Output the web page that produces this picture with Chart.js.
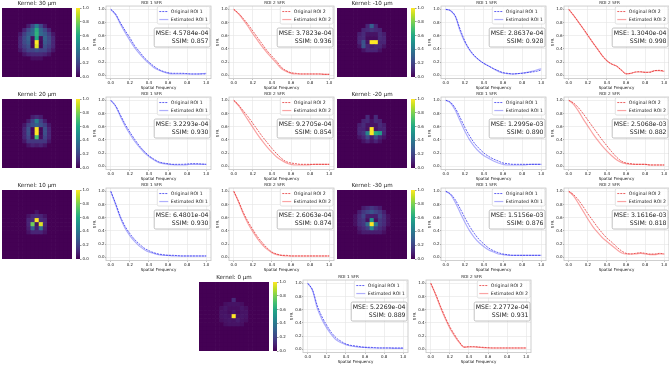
<!DOCTYPE html>
<html>
<head>
<meta charset="utf-8">
<script src="https://cdn.jsdelivr.net/npm/chart.js@4.4.1/dist/chart.umd.min.js"></script>
<style>
  html, body { margin: 0; padding: 0; background: #fff; }
  #fig { position: relative; width: 669px; height: 365px; overflow: hidden; background: #fff; }
  #fig canvas { position: absolute; }
</style>
</head>
<body>
<div id="fig"></div>
<script>
// Data
const freq = [0, 0.05, 0.1, 0.15, 0.2, 0.25, 0.3, 0.35, 0.4, 0.45, 0.5, 0.55, 0.6, 0.65, 0.7, 0.75, 0.8, 0.85, 0.9, 0.95, 1.0];
const xTicks = [0, 0.2, 0.4, 0.6, 0.8, 1.0];
const yTicks = [0, 0.2, 0.4, 0.6, 0.8, 1.0];
const cbTicks = [0, 0.2, 0.4, 0.6, 0.8, 1.0];

const k30Roi1Orig = [1.00, 0.93, 0.80, 0.68, 0.57, 0.45, 0.36, 0.27, 0.20, 0.14, 0.09, 0.06, 0.04, 0.03, 0.03, 0.03, 0.025, 0.02, 0.02, 0.02, 0.02];
const k30Roi1Est = [1.00, 0.92, 0.78, 0.65, 0.53, 0.42, 0.33, 0.25, 0.18, 0.12, 0.08, 0.05, 0.03, 0.02, 0.02, 0.02, 0.02, 0.02, 0.02, 0.025, 0.03];
const k30Roi2Orig = [1.00, 0.94, 0.86, 0.77, 0.67, 0.57, 0.47, 0.37, 0.29, 0.21, 0.12, 0.07, 0.04, 0.03, 0.02, 0.02, 0.02, 0.02, 0.02, 0.015, 0.015];
const k30Roi2Est = [1.00, 0.93, 0.84, 0.74, 0.63, 0.53, 0.43, 0.34, 0.26, 0.18, 0.10, 0.06, 0.03, 0.02, 0.02, 0.02, 0.02, 0.02, 0.02, 0.015, 0.015];

const km10Roi1Orig = [1.00, 0.98, 0.90, 0.70, 0.52, 0.39, 0.30, 0.23, 0.18, 0.14, 0.10, 0.07, 0.04, 0.03, 0.02, 0.025, 0.03, 0.04, 0.05, 0.06, 0.08];
const km10Roi1Est = [1.00, 0.98, 0.89, 0.67, 0.50, 0.38, 0.29, 0.23, 0.18, 0.14, 0.10, 0.06, 0.035, 0.025, 0.02, 0.025, 0.035, 0.045, 0.06, 0.08, 0.10];
const km10Roi2Orig = [1.00, 0.91, 0.81, 0.71, 0.61, 0.50, 0.40, 0.30, 0.22, 0.17, 0.14, 0.08, 0.02, 0.03, 0.05, 0.055, 0.045, 0.045, 0.07, 0.075, 0.065];
const km10Roi2Est = [1.00, 0.91, 0.81, 0.71, 0.60, 0.50, 0.40, 0.30, 0.22, 0.17, 0.14, 0.08, 0.025, 0.03, 0.05, 0.05, 0.045, 0.05, 0.07, 0.07, 0.06];

const k20Roi1Orig = [1.00, 0.92, 0.78, 0.64, 0.52, 0.41, 0.31, 0.23, 0.16, 0.11, 0.07, 0.05, 0.04, 0.03, 0.03, 0.03, 0.035, 0.04, 0.04, 0.035, 0.03];
const k20Roi1Est = [1.00, 0.91, 0.76, 0.61, 0.49, 0.38, 0.29, 0.21, 0.15, 0.10, 0.06, 0.04, 0.03, 0.025, 0.02, 0.02, 0.025, 0.03, 0.03, 0.03, 0.03];
const k20Roi2Orig = [1.00, 0.93, 0.84, 0.75, 0.65, 0.55, 0.45, 0.36, 0.27, 0.19, 0.12, 0.07, 0.05, 0.04, 0.03, 0.03, 0.03, 0.03, 0.03, 0.03, 0.03];
const k20Roi2Est = [1.00, 0.92, 0.81, 0.70, 0.59, 0.48, 0.38, 0.29, 0.21, 0.14, 0.09, 0.05, 0.03, 0.02, 0.02, 0.02, 0.025, 0.03, 0.03, 0.03, 0.03];

const km20Roi1Orig = [1.00, 0.97, 0.88, 0.74, 0.59, 0.46, 0.35, 0.27, 0.20, 0.15, 0.11, 0.08, 0.05, 0.04, 0.03, 0.03, 0.03, 0.03, 0.03, 0.03, 0.03];
const km20Roi1Est = [1.00, 0.96, 0.85, 0.69, 0.53, 0.40, 0.30, 0.22, 0.16, 0.12, 0.08, 0.05, 0.03, 0.02, 0.02, 0.02, 0.02, 0.025, 0.03, 0.03, 0.03];
const km20Roi2Orig = [1.00, 0.96, 0.89, 0.80, 0.70, 0.60, 0.50, 0.40, 0.31, 0.22, 0.14, 0.08, 0.05, 0.04, 0.03, 0.03, 0.03, 0.02, 0.02, 0.02, 0.02];
const km20Roi2Est = [1.00, 0.94, 0.84, 0.72, 0.61, 0.50, 0.40, 0.31, 0.23, 0.16, 0.10, 0.06, 0.04, 0.03, 0.03, 0.03, 0.03, 0.02, 0.02, 0.02, 0.02];

const k10Roi1Orig = [1.00, 0.82, 0.62, 0.47, 0.36, 0.27, 0.20, 0.14, 0.10, 0.07, 0.05, 0.04, 0.03, 0.03, 0.025, 0.02, 0.02, 0.02, 0.02, 0.02, 0.02];
const k10Roi1Est = [1.00, 0.80, 0.60, 0.44, 0.33, 0.24, 0.17, 0.12, 0.08, 0.06, 0.04, 0.03, 0.03, 0.02, 0.02, 0.02, 0.02, 0.02, 0.02, 0.02, 0.02];
const k10Roi2Orig = [1.00, 0.85, 0.68, 0.54, 0.42, 0.31, 0.22, 0.14, 0.08, 0.05, 0.03, 0.03, 0.02, 0.02, 0.02, 0.02, 0.02, 0.02, 0.02, 0.02, 0.02];
const k10Roi2Est = [1.00, 0.84, 0.66, 0.51, 0.39, 0.28, 0.19, 0.12, 0.07, 0.04, 0.03, 0.02, 0.02, 0.02, 0.02, 0.02, 0.02, 0.02, 0.02, 0.02, 0.02];

const km30Roi1Orig = [1.00, 0.96, 0.87, 0.74, 0.60, 0.47, 0.36, 0.27, 0.20, 0.14, 0.10, 0.07, 0.05, 0.04, 0.03, 0.03, 0.03, 0.03, 0.03, 0.03, 0.03];
const km30Roi1Est = [1.00, 0.95, 0.83, 0.68, 0.53, 0.40, 0.30, 0.22, 0.16, 0.11, 0.08, 0.05, 0.04, 0.03, 0.03, 0.03, 0.03, 0.03, 0.03, 0.03, 0.03];
const km30Roi2Orig = [1.00, 0.95, 0.87, 0.77, 0.66, 0.56, 0.46, 0.37, 0.29, 0.23, 0.16, 0.10, 0.06, 0.05, 0.06, 0.07, 0.06, 0.05, 0.05, 0.06, 0.05];
const km30Roi2Est = [1.00, 0.93, 0.82, 0.70, 0.58, 0.47, 0.38, 0.30, 0.24, 0.18, 0.12, 0.07, 0.05, 0.05, 0.05, 0.06, 0.05, 0.04, 0.04, 0.05, 0.05];

const k0Roi1Orig = [1.00, 0.90, 0.66, 0.49, 0.36, 0.25, 0.17, 0.12, 0.08, 0.06, 0.05, 0.04, 0.03, 0.03, 0.025, 0.02, 0.02, 0.02, 0.02, 0.02, 0.02];
const k0Roi1Est = [1.00, 0.89, 0.62, 0.45, 0.32, 0.22, 0.14, 0.10, 0.07, 0.05, 0.04, 0.03, 0.03, 0.02, 0.02, 0.02, 0.02, 0.02, 0.015, 0.015, 0.015];
const k0Roi2Orig = [1.00, 0.84, 0.66, 0.49, 0.34, 0.22, 0.11, 0.035, 0.04, 0.04, 0.035, 0.03, 0.025, 0.02, 0.02, 0.02, 0.02, 0.02, 0.02, 0.02, 0.02];
const k0Roi2Est = [1.00, 0.83, 0.64, 0.47, 0.32, 0.20, 0.10, 0.03, 0.035, 0.035, 0.03, 0.025, 0.02, 0.02, 0.02, 0.02, 0.02, 0.02, 0.02, 0.02, 0.02];

// MSE / SSIM per panel
const mseRoi1 = ['4.5784e-04', '2.8637e-04', '3.2293e-04', '1.2995e-03', '6.4801e-04', '1.5156e-03', '5.2269e-04'];
const ssimRoi1 = ['0.857', '0.928', '0.930', '0.890', '0.930', '0.876', '0.889'];
const mseRoi2 = ['3.7823e-04', '1.3040e-04', '9.2705e-04', '2.5068e-03', '2.6063e-04', '3.1616e-03', '2.2772e-04'];
const ssimRoi2 = ['0.936', '0.998', '0.854', '0.882', '0.874', '0.818', '0.931'];

// kernels: central 9x9 block of a 17x17 grid (rows/cols 4..12), the rest is 0
const kernel30 = [
  [0, 0, 0.08, 0.22, 0.42, 0.22, 0.08, 0, 0],
  [0, 0.10, 0.22, 0.32, 0.62, 0.32, 0.22, 0.10, 0],
  [0.06, 0.18, 0.28, 0.34, 0.64, 0.34, 0.28, 0.18, 0.06],
  [0.10, 0.22, 0.32, 0.04, 0.60, 0.04, 0.32, 0.22, 0.10],
  [0.10, 0.22, 0.28, 0.02, 1.00, 0.02, 0.28, 0.22, 0.10],
  [0.10, 0.18, 0.24, 0.02, 0.95, 0.02, 0.24, 0.18, 0.10],
  [0.06, 0.14, 0.20, 0.20, 0.24, 0.20, 0.20, 0.14, 0.06],
  [0, 0.06, 0.10, 0.12, 0.12, 0.12, 0.10, 0.06, 0],
  [0, 0, 0, 0.04, 0.04, 0.04, 0, 0, 0]
];
const kernel20 = [
  [0, 0, 0, 0.08, 0.12, 0.08, 0, 0, 0],
  [0, 0, 0.08, 0.20, 0.42, 0.20, 0.08, 0, 0],
  [0, 0.06, 0.18, 0.24, 0.30, 0.24, 0.18, 0.06, 0],
  [0, 0.10, 0.24, 0.02, 1.00, 0.02, 0.24, 0.10, 0],
  [0, 0.10, 0.24, 0.02, 1.00, 0.02, 0.24, 0.10, 0],
  [0, 0.10, 0.20, 0.04, 0.70, 0.04, 0.20, 0.10, 0],
  [0, 0.06, 0.16, 0.16, 0.16, 0.16, 0.16, 0.06, 0],
  [0, 0, 0.06, 0.10, 0.08, 0.10, 0.06, 0, 0],
  [0, 0, 0, 0, 0, 0, 0, 0, 0]
];
const kernel10 = [
  [0, 0, 0, 0, 0, 0, 0, 0, 0],
  [0, 0, 0, 0, 0.05, 0, 0, 0, 0],
  [0, 0, 0.05, 0.10, 0.12, 0.10, 0.05, 0, 0],
  [0, 0, 0.10, 0.12, 1.00, 0.12, 0.10, 0, 0],
  [0, 0, 0.10, 0.78, 0.05, 0.95, 0.10, 0, 0],
  [0, 0, 0.08, 0.30, 0.08, 0.35, 0.08, 0, 0],
  [0, 0, 0.05, 0.10, 0.10, 0.10, 0.05, 0, 0],
  [0, 0, 0, 0, 0, 0, 0, 0, 0],
  [0, 0, 0, 0, 0, 0, 0, 0, 0]
];
const kernelM10 = [
  [0, 0, 0, 0.10, 0.30, 0.10, 0, 0, 0],
  [0, 0, 0.10, 0.12, 0.15, 0.12, 0.10, 0, 0],
  [0, 0.08, 0.12, 0.05, 0.05, 0.05, 0.12, 0.08, 0],
  [0, 0.10, 0.12, 0.03, 0.03, 0.03, 0.12, 0.10, 0],
  [0, 0.10, 0.25, 0.05, 1.00, 1.00, 0.10, 0.10, 0],
  [0, 0.05, 0.25, 0.10, 0.08, 0.10, 0.10, 0.05, 0],
  [0, 0, 0.05, 0.10, 0.10, 0.10, 0.05, 0, 0],
  [0, 0, 0, 0, 0, 0, 0, 0, 0],
  [0, 0, 0, 0, 0, 0, 0, 0, 0]
];
const kernelM20 = [
  [0, 0, 0, 0.12, 0, 0.12, 0, 0, 0],
  [0, 0, 0.10, 0.12, 0.05, 0.12, 0.10, 0, 0],
  [0, 0.08, 0.12, 0.05, 0.05, 0.05, 0.12, 0.08, 0],
  [0, 0.10, 0.10, 0.05, 1.00, 0.05, 0.10, 0.10, 0],
  [0, 0.10, 0.15, 0.45, 1.00, 0.62, 0.55, 0.10, 0],
  [0, 0.05, 0.10, 0.22, 0.08, 0.22, 0.10, 0.05, 0],
  [0, 0, 0.05, 0.10, 0.05, 0.10, 0.05, 0, 0],
  [0, 0, 0, 0, 0, 0, 0, 0, 0],
  [0, 0, 0, 0, 0, 0, 0, 0, 0]
];
const kernelM30 = [
  [0, 0, 0.08, 0.12, 0.16, 0.12, 0.08, 0, 0],
  [0, 0.08, 0.16, 0.20, 0.26, 0.20, 0.16, 0.08, 0],
  [0.04, 0.12, 0.20, 0.08, 0.08, 0.08, 0.20, 0.12, 0.04],
  [0.04, 0.12, 0.16, 0.04, 0.50, 0.04, 0.16, 0.12, 0.04],
  [0.04, 0.12, 0.16, 0.35, 1.00, 0.40, 0.16, 0.12, 0.04],
  [0, 0.08, 0.12, 0.18, 0.45, 0.18, 0.12, 0.08, 0],
  [0, 0.04, 0.08, 0.08, 0.08, 0.08, 0.08, 0.04, 0],
  [0, 0, 0, 0, 0, 0, 0, 0, 0],
  [0, 0, 0, 0, 0, 0, 0, 0, 0]
];
const kernel0 = [
  [0, 0, 0, 0, 0.12, 0, 0, 0, 0],
  [0, 0, 0.04, 0.05, 0.05, 0.05, 0.04, 0, 0],
  [0, 0.04, 0.06, 0.04, 0.04, 0.04, 0.06, 0.04, 0],
  [0, 0.05, 0.05, 0.03, 0.06, 0.03, 0.05, 0.05, 0],
  [0, 0.05, 0.06, 0.05, 1.00, 0.05, 0.06, 0.05, 0],
  [0, 0.04, 0.05, 0.06, 0.05, 0.08, 0.05, 0.04, 0],
  [0, 0, 0.04, 0.05, 0.05, 0.05, 0.04, 0, 0],
  [0, 0, 0, 0, 0, 0, 0, 0, 0],
  [0, 0, 0, 0, 0, 0, 0, 0, 0]
];

const FONT = '"DejaVu Sans", sans-serif';
const TXT = '#222';
const GRID_N = 17;
const viridis = ['#440154', '#482475', '#414487', '#355f8d', '#2a788e', '#21918c', '#22a884', '#44bf70', '#7ad151', '#bddf26', '#fde725'];

const blue = { orig: 'rgba(20,20,235,0.75)', est: 'rgba(110,110,250,0.55)' };
const red = { orig: 'rgba(225,20,20,0.75)', est: 'rgba(245,90,90,0.55)' };

// block layout: each block = heatmap + colorbar + ROI1 + ROI2
const blocks = [
  { ox: 0, oy: 0, title: 'Kernel: 30 µm', kernel: kernel30, r1: [k30Roi1Orig, k30Roi1Est], r2: [k30Roi2Orig, k30Roi2Est], i: 0 },
  { ox: 335, oy: 0, title: 'Kernel: -10 µm', kernel: kernelM10, r1: [km10Roi1Orig, km10Roi1Est], r2: [km10Roi2Orig, km10Roi2Est], i: 1 },
  { ox: 0, oy: 91, title: 'Kernel: 20 µm', kernel: kernel20, r1: [k20Roi1Orig, k20Roi1Est], r2: [k20Roi2Orig, k20Roi2Est], i: 2 },
  { ox: 335, oy: 91, title: 'Kernel: -20 µm', kernel: kernelM20, r1: [km20Roi1Orig, km20Roi1Est], r2: [km20Roi2Orig, km20Roi2Est], i: 3 },
  { ox: 0, oy: 182, title: 'Kernel: 10 µm', kernel: kernel10, r1: [k10Roi1Orig, k10Roi1Est], r2: [k10Roi2Orig, k10Roi2Est], i: 4 },
  { ox: 335, oy: 182, title: 'Kernel: -30 µm', kernel: kernelM30, r1: [km30Roi1Orig, km30Roi1Est], r2: [km30Roi2Orig, km30Roi2Est], i: 5 },
  { ox: 197, oy: 274, title: 'Kernel: 0 µm', kernel: kernel0, r1: [k0Roi1Orig, k0Roi1Est], r2: [k0Roi2Orig, k0Roi2Est], i: 6 }
];

const fig = document.getElementById('fig');

function addCanvas(x, y, w, h) {
  const c = document.createElement('canvas');
  c.width = w;
  c.height = h;
  c.style.left = x + 'px';
  c.style.top = y + 'px';
  c.style.width = w + 'px';
  c.style.height = h + 'px';
  fig.appendChild(c);
  return c;
}

function hexRgb(h) {
  return [parseInt(h.slice(1, 3), 16), parseInt(h.slice(3, 5), 16), parseInt(h.slice(5, 7), 16)];
}

function cmap(v) {
  const t = Math.max(0, Math.min(1, v)) * 10;
  const i = Math.min(9, Math.floor(t));
  const f = t - i;
  const a = hexRgb(viridis[i]), b = hexRgb(viridis[i + 1]);
  const c = a.map((x, k) => Math.round(x + (b[k] - x) * f));
  return `rgb(${c[0]},${c[1]},${c[2]})`;
}

function fullGrid(core) {
  const g = [];
  for (let r = 0; r < GRID_N; r++) {
    const row = [];
    for (let c = 0; c < GRID_N; c++) {
      const cr = r - 4, cc = c - 4;
      row.push(core[cr] && core[cr][cc] !== undefined ? core[cr][cc] : 0);
    }
    g.push(row);
  }
  return g;
}

// frame around the plot area
const framePlugin = {
  id: 'frame',
  afterDraw(chart) {
    const { ctx, chartArea: a } = chart;
    ctx.save();
    ctx.strokeStyle = '#c4c4c4';
    ctx.lineWidth = 0.8;
    ctx.strokeRect(a.left, a.top, a.right - a.left, a.bottom - a.top);
    ctx.restore();
  }
};

function box(ctx, x, y, w, h, stroke) {
  ctx.beginPath();
  if (ctx.roundRect) ctx.roundRect(x, y, w, h, 1.5);
  else ctx.rect(x, y, w, h);
  ctx.fillStyle = 'rgba(255,255,255,0.85)';
  ctx.fill();
  ctx.strokeStyle = stroke;
  ctx.lineWidth = 0.7;
  ctx.stroke();
}

// legend + MSE/SSIM box
const sfrBoxPlugin = {
  id: 'sfrBox',
  afterDraw(chart, args, opts) {
    const { ctx, chartArea: a } = chart;
    const ds = chart.data.datasets;
    ctx.save();
    ctx.font = `4.6px ${FONT}`;
    const tw = Math.max(...ds.map(d => ctx.measureText(d.label).width));
    const lw = 9, gap = 2.5, pad = 2;
    const bw = pad + lw + gap + tw + pad;
    const bx = a.right - 1 - bw, by = a.top + 0.5;
    box(ctx, bx, by, bw, 17.5, '#d6d6d6');
    ds.forEach((d, i) => {
      const yy = by + 5 + i * 8;
      ctx.beginPath();
      ctx.setLineDash(d.borderDash || []);
      ctx.strokeStyle = d.borderColor;
      ctx.lineWidth = d.borderWidth;
      ctx.moveTo(bx + pad, yy);
      ctx.lineTo(bx + pad + lw, yy);
      ctx.stroke();
      ctx.setLineDash([]);
      ctx.fillStyle = TXT;
      ctx.textAlign = 'left';
      ctx.textBaseline = 'middle';
      ctx.fillText(d.label, bx + pad + lw + gap, yy);
    });

    ctx.font = `6.2px ${FONT}`;
    const l1 = 'MSE: ' + opts.mse, l2 = 'SSIM: ' + opts.ssim;
    const mw = Math.max(ctx.measureText(l1).width, ctx.measureText(l2).width) + 3;
    const mx = a.right - 1 - mw, my = a.top + 22;
    box(ctx, mx, my, mw, 19, '#a8a8a8');
    ctx.fillStyle = TXT;
    ctx.textAlign = 'right';
    ctx.textBaseline = 'middle';
    ctx.fillText(l1, a.right - 2.5, my + 5.5);
    ctx.fillText(l2, a.right - 2.5, my + 13.5);
    ctx.restore();
  }
};

function drawKernel(x, y, title, core) {
  const c = addCanvas(x, y, 70, 77);
  const grid = fullGrid(core);
  const cols = grid[0].map((_, k) => k);
  const datasets = grid.slice().reverse().map(row => ({
    data: cols.map(() => 1),
    backgroundColor: row.map(cmap),
    borderWidth: 0,
    barPercentage: 1,
    categoryPercentage: 1
  }));
  new Chart(c, {
    type: 'bar',
    data: { labels: cols, datasets },
    options: {
      responsive: false,
      animation: false,
      layout: { padding: 0 },
      plugins: {
        legend: { display: false },
        tooltip: { enabled: false },
        title: { display: true, text: title, color: TXT, font: { family: FONT, size: 5.6, weight: 'normal' }, padding: { top: 0, bottom: 1.3 } }
      },
      scales: {
        x: { stacked: true, display: false },
        y: { stacked: true, display: false, min: 0, max: GRID_N }
      }
    }
  });
}

function drawColorbar(x, y) {
  const c = addCanvas(x, y, 16, 77);
  new Chart(c, {
    type: 'bar',
    data: {
      labels: [''],
      datasets: [{
        data: [1],
        barPercentage: 1,
        categoryPercentage: 1,
        borderWidth: 0,
        backgroundColor: (ctx) => {
          const a = ctx.chart.chartArea;
          if (!a) return viridis[0];
          const g = ctx.chart.ctx.createLinearGradient(0, a.bottom, 0, a.top);
          viridis.forEach((col, k) => g.addColorStop(k / 10, col));
          return g;
        }
      }]
    },
    options: {
      responsive: false,
      animation: false,
      layout: { padding: { top: 4, bottom: 4, left: 0, right: 0 } },
      plugins: { legend: { display: false }, tooltip: { enabled: false } },
      scales: {
        x: { display: false },
        y: {
          position: 'right', min: 0, max: 1,
          afterBuildTicks: s => { s.ticks = cbTicks.map(v => ({ value: v })); },
          afterFit: s => { s.width = 12; },
          grid: { drawOnChartArea: false, tickLength: 1.5, tickColor: '#333', lineWidth: 0.5 },
          border: { display: false },
          ticks: { color: TXT, font: { family: FONT, size: 4 }, padding: 1, callback: v => v.toFixed(1) }
        }
      }
    }
  });
}

function drawSfr(x, y, w, title, roi, series, col, mse, ssim) {
  const c = addCanvas(x, y, w, 91);
  const tickFont = { family: FONT, size: 4 };
  const axisCommon = {
    type: 'linear', min: -0.05, max: 1.05,
    grid: { color: '#e4e4e4', lineWidth: 0.6, tickLength: 1, tickColor: '#555' },
    border: { display: false },
    ticks: { color: TXT, font: tickFont, padding: 0.5, callback: v => v.toFixed(1) }
  };
  new Chart(c, {
    type: 'line',
    data: {
      datasets: [
        { label: 'Original ' + roi, data: freq.map((f, i) => ({ x: f, y: series[0][i] })), borderColor: col.orig, borderWidth: 0.9, borderDash: [2, 1], pointRadius: 0, cubicInterpolationMode: 'monotone' },
        { label: 'Estimated ' + roi, data: freq.map((f, i) => ({ x: f, y: series[1][i] })), borderColor: col.est, borderWidth: 1.2, pointRadius: 0, cubicInterpolationMode: 'monotone' }
      ]
    },
    options: {
      responsive: false,
      animation: false,
      layout: { padding: { left: 0, right: 2, top: 0, bottom: 0 } },
      plugins: {
        legend: { display: false },
        tooltip: { enabled: false },
        title: { display: true, text: title, color: TXT, font: { family: FONT, size: 4.2, weight: 'normal' }, padding: { top: 0, bottom: 1 } },
        sfrBox: { mse, ssim }
      },
      scales: {
        x: {
          ...axisCommon,
          afterBuildTicks: s => { s.ticks = xTicks.map(v => ({ value: v })); },
          afterFit: s => { s.height = 12.4; },
          title: { display: true, text: 'Spatial Frequency', color: TXT, font: tickFont, padding: { top: 0, bottom: 1 } }
        },
        y: {
          ...axisCommon,
          afterBuildTicks: s => { s.ticks = yTicks.map(v => ({ value: v })); },
          afterFit: s => { s.width = 14; },
          title: { display: true, text: 'SFR', color: TXT, font: tickFont, padding: { top: 1, bottom: 0 } }
        }
      }
    },
    plugins: [framePlugin, sfrBoxPlugin]
  });
}

blocks.forEach(b => {
  drawKernel(b.ox + 2, b.oy, b.title, b.kernel);
  drawColorbar(b.ox + 76, b.oy + 4);
  drawSfr(b.ox + 92, b.oy, 121, 'ROI 1 SFR', 'ROI 1', b.r1, blue, mseRoi1[b.i], ssimRoi1[b.i]);
  drawSfr(b.ox + 215, b.oy, 121, 'ROI 2 SFR', 'ROI 2', b.r2, red, mseRoi2[b.i], ssimRoi2[b.i]);
});
</script>
</body>
</html>
